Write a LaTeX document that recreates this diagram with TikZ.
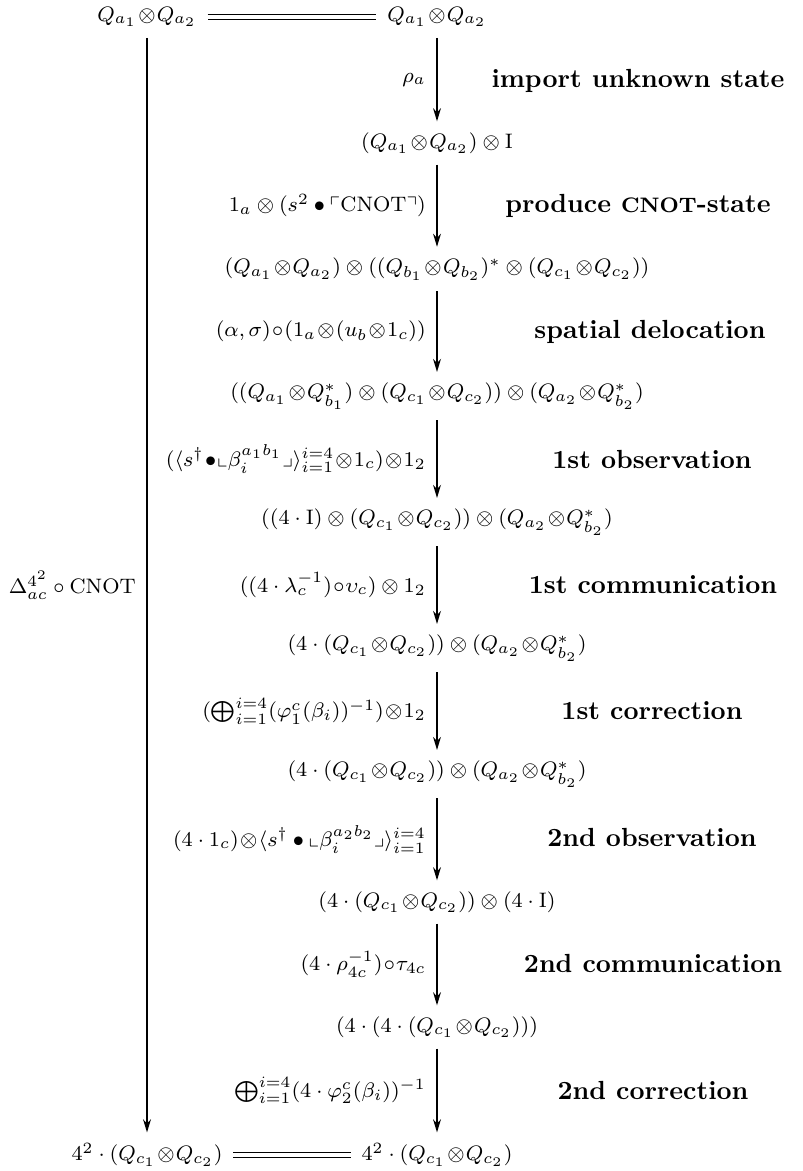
\documentclass[tikz,border=0pt]{standalone}
\usepackage{amsmath}
\usepackage{amssymb}
\usetikzlibrary{arrows.meta}

\tikzset{
  obj/.style={inner sep=4pt, font=\footnotesize},
  lbl/.style={left, inner sep=4pt, font=\footnotesize},
  stage/.style={font=\bfseries},
  mor/.style={-{Stealth[length=5pt,width=3pt]}, line width=0.6pt},
  eq/.style={double, double distance=1.3pt, line width=0.4pt}
}

\begin{document}
\begin{tikzpicture}[x=0.3817pt, y=-0.3817pt]
    \useasboundingbox (0,0) rectangle (802,1171);

    % Objets (colonne gauche et droite)
    \node[obj] (l0) at (147,17) {$Q_{a_1}\!\otimes\!Q_{a_2}$};
    \node[obj] (r0) at (437,17) {$Q_{a_1}\!\otimes\!Q_{a_2}$};
    \node[obj] (r1) at (437,143) {$(Q_{a_1}\!\otimes\!Q_{a_2})\otimes\mathrm{I}$};
    \node[obj] (r2) at (437,269) {$(Q_{a_1}\!\otimes\!Q_{a_2})\otimes((Q_{b_1}\!\otimes\!Q_{b_2})^*\otimes(Q_{c_1}\!\otimes\!Q_{c_2}))$};
    \node[obj] (r3) at (437,396) {$((Q_{a_1}\!\otimes\!Q^*_{b_1})\otimes(Q_{c_1}\!\otimes\!Q_{c_2}))\otimes(Q_{a_2}\!\otimes\!Q^*_{b_2})$};
    \node[obj] (r4) at (437,522) {$((4\cdot\mathrm{I})\otimes(Q_{c_1}\!\otimes\!Q_{c_2}))\otimes(Q_{a_2}\!\otimes\!Q^*_{b_2})$};
    \node[obj] (r5) at (437,648) {$(4\cdot(Q_{c_1}\!\otimes\!Q_{c_2}))\otimes(Q_{a_2}\!\otimes\!Q^*_{b_2})$};
    \node[obj] (r6) at (437,774) {$(4\cdot(Q_{c_1}\!\otimes\!Q_{c_2}))\otimes(Q_{a_2}\!\otimes\!Q^*_{b_2})$};
    \node[obj] (r7) at (437,902) {$(4\cdot(Q_{c_1}\!\otimes\!Q_{c_2}))\otimes(4\cdot\mathrm{I})$};
    \node[obj] (r8) at (437,1027) {$(4\cdot(4\cdot(Q_{c_1}\!\otimes\!Q_{c_2})))$};
    \node[obj] (l9) at (147,1155) {$4^2\cdot(Q_{c_1}\!\otimes\!Q_{c_2})$};
    \node[obj] (r9) at (437,1155) {$4^2\cdot(Q_{c_1}\!\otimes\!Q_{c_2})$};

    % Egalites
    \draw[eq] (l0) -- (r0);
    \draw[eq] (l9) -- (r9);

    % Fleche de gauche
    \draw[mor] (l0) -- node[lbl] {$\Delta_{ac}^{4^2}\circ\mathrm{CNOT}$} (l9);

    % Fleches de droite
    \draw[mor] (r0) -- node[lbl] {$\rho_a$} (r1);
    \draw[mor] (r1) -- node[lbl] {$1_a\otimes(s^2\bullet\ulcorner\mathrm{CNOT}\urcorner)$} (r2);
    \draw[mor] (r2) -- node[lbl] {$(\alpha,\sigma)\!\circ\!(1_a\!\otimes\!(u_b\!\otimes\!1_c))$} (r3);
    \draw[mor] (r3) -- node[lbl] {$(\langle s^\dagger\!\bullet\!\llcorner\beta_i^{a_1b_1}\lrcorner\rangle_{i=1}^{i=4}\!\otimes\!1_c)\!\otimes\!1_2$} (r4);
    \draw[mor] (r4) -- node[lbl] {$((4\cdot\lambda_c^{-1})\!\circ\!\upsilon_c)\otimes1_2$} (r5);
    \draw[mor] (r5) -- node[lbl] {$(\bigoplus_{i=1}^{i=4}(\varphi_1^c(\beta_i))^{-1})\!\otimes\!1_2$} (r6);
    \draw[mor] (r6) -- node[lbl] {$(4\cdot1_c)\!\otimes\!\langle s^\dagger\bullet\llcorner\beta_i^{a_2b_2}\lrcorner\rangle_{i=1}^{i=4}$} (r7);
    \draw[mor] (r7) -- node[lbl] {$(4\cdot\rho_{4c}^{-1})\!\circ\!\tau_{4c}$} (r8);
    \draw[mor] (r8) -- node[lbl] {$\bigoplus_{i=1}^{i=4}(4\cdot\varphi_2^c(\beta_i))^{-1}$} (r9);

    % Etapes du protocole
    \node[stage] (s1) at (638,81) {import unknown state};
    \node[stage] (s2) at (638,206) {produce {\fontsize{8}{8}\selectfont CNOT}-state};
    \node[stage] (s3) at (650,332) {spatial delocation};
    \node[stage] (s4) at (652,459) {1st observation};
    \node[stage] (s5) at (653,585) {1st communication};
    \node[stage] (s6) at (652,711) {1st correction};
    \node[stage] (s7) at (652,837) {2nd observation};
    \node[stage] (s8) at (653,963) {2nd communication};
    \node[stage] (s9) at (653,1090) {2nd correction};
\end{tikzpicture}
\end{document}
